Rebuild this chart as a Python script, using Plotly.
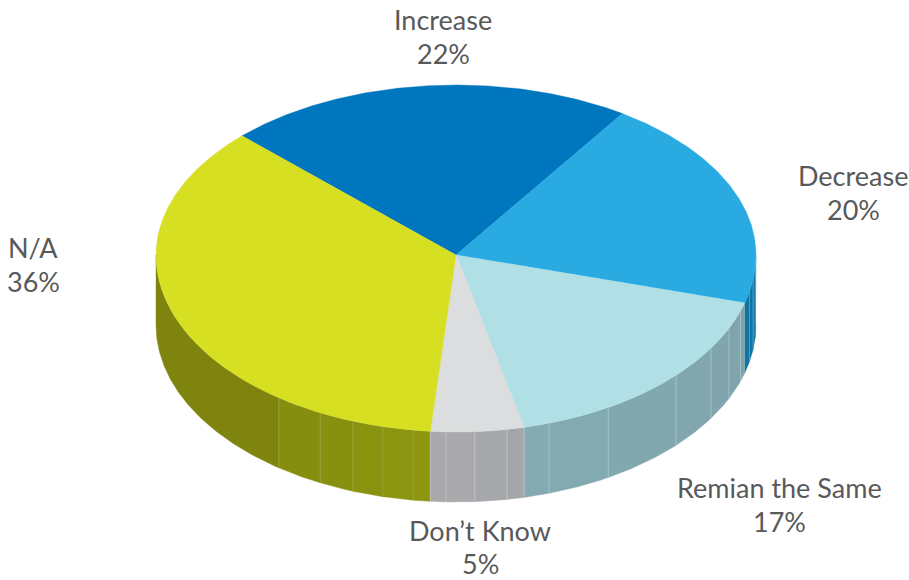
import math
import plotly.graph_objects as go

# Survey shares, clockwise from the upper-left edge of the "Increase" slice
categories = ["Increase", "Decrease", "Remian the Same", "Don’t Know", "N/A"]
shares = [22, 20, 17, 5, 36]
label_centers = [(443, 36), (853, 192), (779, 504), (480, 547), (33, 264)]
label_gaps = [17, 17, 17, 16.5, 17]

top_colors = ["#0076BF", "#29ABE2", "#B0DFE5", "#DCDDDE", "#D7DF23"]
wall_colors_near = ["#0076BF", "#0F75A3", "#84ABB2", "#AAAAAD", "#8C960F"]
wall_colors_far = ["#0076BF", "#0F75A3", "#7FA3AA", "#A5A6A9", "#7E840E"]
seam_colors = ["#0076BF", "#4F9DBF", "#9FC0C5", "#BDBFC2", "#989E30"]

# Facets of the rim, as degrees clockwise from the top of the disc
rim_facets = {
    1: [94, 98, 102],
    2: [161.9, 149.5, 132.8, 121.8, 114.5, 108.5],
    3: [181.9, 176.4, 170.2],
    4: [216.2, 206.9, 200.1, 194.1, 188.2],
}

START_DEG = -45.5
CX, CY = 456.0, 255.0
RX, RY_BACK, RY_FRONT = 300.0, 170.0, 177.0
DEPTH = 70.0
FONT = "Lato"
FONT_SIZE = 27
TEXT_COLOR = "#595959"


def rim_point(deg, drop=0.0):
    t = math.radians(deg)
    c = math.cos(t)
    ry = RY_BACK if c > 0 else RY_FRONT
    return CX + RX * math.sin(t), CY - ry * c + drop


def arc(a, b, drop=0.0):
    n = max(2, int(abs(b - a) / 0.5) + 1)
    pts = [rim_point(a + (b - a) * i / (n - 1), drop) for i in range(n)]
    return [p[0] for p in pts], [p[1] for p in pts]


def blend(c1, c2, f):
    v1 = [int(c1[i:i + 2], 16) for i in (1, 3, 5)]
    v2 = [int(c2[i:i + 2], 16) for i in (1, 3, 5)]
    return "#" + "".join(f"{round(p + (q - p) * f):02X}" for p, q in zip(v1, v2))


def polygon(xs, ys, color):
    return go.Scatter(x=xs, y=ys, mode="lines", fill="toself", fillcolor=color,
                      line=dict(color=color, width=0.4), hoverinfo="skip",
                      showlegend=False)


def seam(deg, color):
    sx, sy = rim_point(deg)
    ex, ey = rim_point(deg, DEPTH)
    return go.Scatter(x=[sx, ex], y=[sy, ey], mode="lines",
                      line=dict(color=color, width=1),
                      hoverinfo="skip", showlegend=False)


# Slice boundaries from the shares
total = sum(shares)
edges = [START_DEG]
for s in shares:
    edges.append(edges[-1] + 360.0 * s / total)

fig = go.Figure()

# Visible rim: only the part of each slice on the front half of the disc
for idx in range(len(shares)):
    lo, hi = max(edges[idx], 90.0), min(edges[idx + 1], 270.0)
    if lo >= hi:
        continue
    stops = sorted({lo, hi, *[d for d in rim_facets.get(idx, []) if lo < d < hi]})
    mids = [(stops[j] + stops[j + 1]) / 2 for j in range(len(stops) - 1)]
    near = min(abs(m - 180.0) for m in mids)
    far = max(abs(m - 180.0) for m in mids)
    for j in range(len(stops) - 1):
        a, b = stops[j], stops[j + 1]
        tx, ty = arc(a, b)
        bx, by = arc(b, a, DEPTH)
        f = (abs(mids[j] - 180.0) - near) / max(far - near, 1e-6)
        color = blend(wall_colors_near[idx], wall_colors_far[idx], f)
        fig.add_trace(polygon(tx + bx, ty + by, color))
    # thin light seams between the facets
    for d in stops[1:-1]:
        fig.add_trace(seam(d, seam_colors[idx]))

# The small grey slice also has light seams along both of its ends
fig.add_trace(seam(edges[3], seam_colors[3]))
fig.add_trace(seam(edges[4], seam_colors[3]))

# Top face of each slice
for idx in range(len(shares)):
    ax, ay = arc(edges[idx], edges[idx + 1])
    fig.add_trace(polygon([CX] + ax + [CX], [CY] + ay + [CY], top_colors[idx]))

# Category and percentage labels, one annotation per line
annotations = []
for name, share, (lx, ly), gap in zip(categories, shares, label_centers, label_gaps):
    for text, line_y in ((name, ly - gap), (f"{share}%", ly + gap)):
        annotations.append(dict(x=lx, y=line_y, xref="x", yref="y", showarrow=False,
                                xanchor="center", yanchor="middle", align="center",
                                text=text,
                                font=dict(family=FONT, size=FONT_SIZE, color=TEXT_COLOR)))

fig.update_layout(
    width=909, height=580, autosize=False,
    margin=dict(l=0, r=0, t=0, b=0),
    paper_bgcolor="white", plot_bgcolor="white",
    xaxis=dict(range=[0, 909], visible=False, fixedrange=True),
    yaxis=dict(range=[580, 0], visible=False, fixedrange=True),
    annotations=annotations,
)

fig.write_html("out.html", config={"displayModeBar": False})
